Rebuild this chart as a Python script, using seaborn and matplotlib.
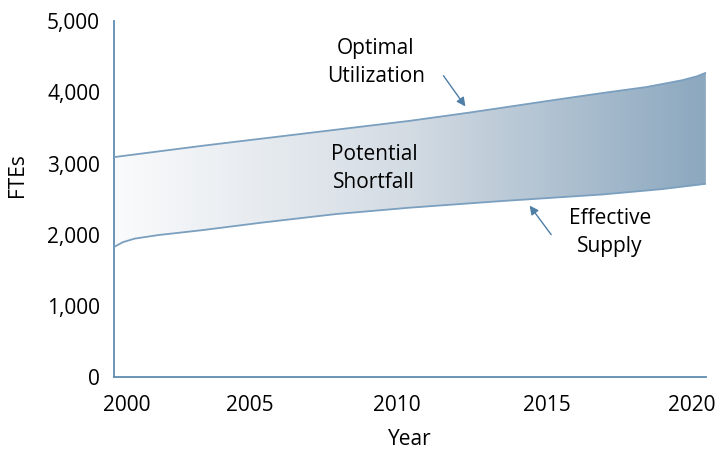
import numpy as np
import matplotlib
matplotlib.use("Agg")
import matplotlib.pyplot as plt
import matplotlib.transforms as mtransforms
import seaborn as sns
from matplotlib.colors import LinearSegmentedColormap

# values (FTEs)
opt_years = [2000, 2003, 2006.5, 2010, 2012, 2015, 2016.5, 2018, 2019.2, 2019.7, 2020]
optimal = [3090, 3250, 3425, 3600, 3715, 3900, 3990, 4075, 4170, 4225, 4275]
sup_years = [2000, 2000.3, 2000.7, 2001.5, 2003, 2005, 2007.5, 2010, 2013, 2016.5, 2018.5, 2020]
supply = [1826, 1895, 1945, 1995, 2065, 2170, 2290, 2380, 2470, 2565, 2640, 2715]
xticks = [2000, 2005, 2010, 2015, 2020]
yticks = [0, 1000, 2000, 3000, 4000, 5000]

sns.set_theme(style="white")
plt.rcParams['font.family'] = ['Open Sans', 'DejaVu Sans']
plt.rcParams['text.color'] = 'black'

line_col = "#7b9fbf"
spine_col = "#5f8bb0"
fs = 15

fig = plt.figure(figsize=(7.21, 4.5), dpi=100)
ax = fig.add_axes([0.158, 0.162, 0.821, 0.791])

# gradient band between the two curves
grid = np.union1d(opt_years, sup_years)
top = np.interp(grid, opt_years, optimal)
bot = np.interp(grid, sup_years, supply)
band = ax.fill_between(grid, bot, top, facecolor="none", edgecolor="none")
cmap = LinearSegmentedColormap.from_list("band", ["#fafbfc", "#d3dbe3", "#8ca8bf"])
grad = np.linspace(0, 1, 256).reshape(1, -1)
img = ax.imshow(grad, cmap=cmap, aspect="auto", extent=[2000, 2020, 0, 5000],
                origin="lower", zorder=1)
img.set_clip_path(band.get_paths()[0], transform=ax.transData)

sns.lineplot(x=opt_years, y=optimal, ax=ax, color=line_col, lw=1.3, zorder=3)
sns.lineplot(x=sup_years, y=supply, ax=ax, color=line_col, lw=1.3, zorder=3)

ax.set_xlim(2000, 2020)
ax.set_ylim(0, 5000)
ax.set_xticks(xticks)
ax.set_yticks(yticks)
ax.set_yticklabels([f"{v:,}" for v in yticks])
ax.tick_params(axis="both", length=0, labelsize=fs, labelcolor="black")
ax.tick_params(axis="x", pad=13)
ax.tick_params(axis="y", pad=10)

# x tick labels sit a little left of their ticks in the reference
shifts = [13, -12, -13, -11, -14]
for lab, dx in zip(ax.get_xticklabels(), shifts):
    lab.set_transform(lab.get_transform() +
                      mtransforms.ScaledTranslation(dx / 100, 0, fig.dpi_scale_trans))

ax.set_xlabel("Year", fontsize=fs, color="black")
ax.set_ylabel("FTEs", fontsize=fs, color="black")
ax.xaxis.set_label_coords(0.5, -0.145)
ax.yaxis.set_label_coords(-0.145, 0.567)

for s in ["top", "right"]:
    ax.spines[s].set_visible(False)
for s in ["left", "bottom"]:
    ax.spines[s].set_color(spine_col)
    ax.spines[s].set_linewidth(1.3)

txt = dict(fontsize=fs, ha="center", va="center", linespacing=1.45, color="black")
ax.text(2008.85, 4420, "Optimal\nUtilization", **txt)
ax.text(2008.8, 2930, "Potential\nShortfall", **txt)
ax.text(2016.75, 2030, "Effective\nSupply", **txt)

arr = dict(arrowstyle="-|>", color="#4f7ea6", lw=1.0, mutation_scale=13)
ax.annotate("", xy=(2011.93, 3770), xytext=(2011.08, 4265), arrowprops=arr)
ax.annotate("", xy=(2013.99, 2440), xytext=(2014.83, 1970), arrowprops=arr)

fig.savefig("out.png", dpi=100)
